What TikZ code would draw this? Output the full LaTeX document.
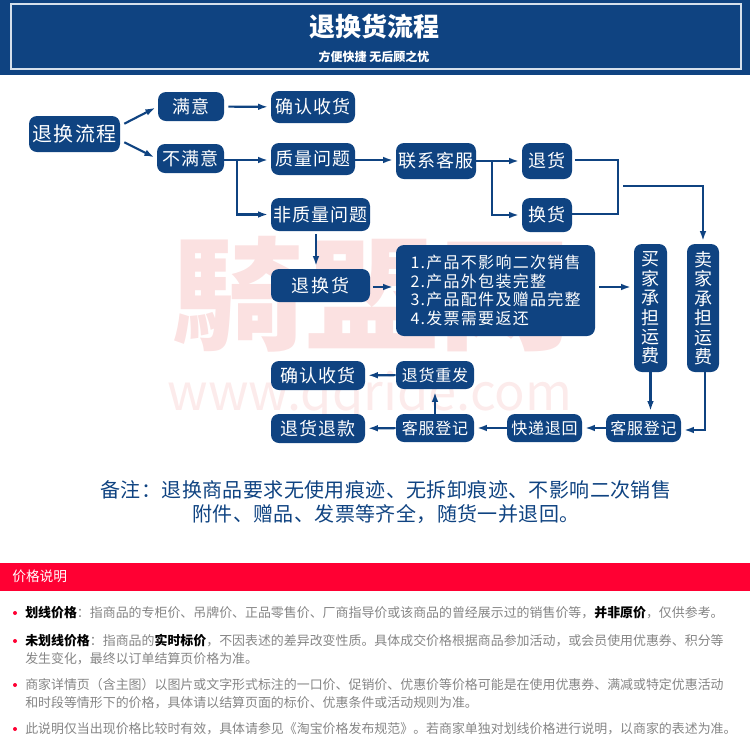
\documentclass[tikz,border=0pt]{standalone}
\usepackage{fontspec}
\setmainfont{Noto Sans CJK SC}
\usetikzlibrary{arrows.meta}
\definecolor{flowblue}{HTML}{0F4381}
\definecolor{framelight}{HTML}{D5E0EC}
\definecolor{notered}{HTML}{FF0033}
\definecolor{notegray}{HTML}{858585}
\definecolor{markpink}{HTML}{FBE1E1}
\definecolor{urlpink}{HTML}{FCEBEB}
\tikzset{
  flowbox/.style={draw=none, fill=flowblue, rounded corners=6pt, text=white, inner sep=0pt, font=\fontsize{13.5}{16}\selectfont\addfontfeature{LetterSpace=6}},
  smallbox/.style={flowbox, font=\fontsize{12}{14}\selectfont\addfontfeature{LetterSpace=5}},
  tallbox/.style={flowbox, align=center, font=\fontsize{13.5}{14.6}\selectfont},
  flowline/.style={draw=flowblue, line width=1.6pt},
  flowarrow/.style={flowline, -{Latex[length=7.5pt,width=5pt]}},
  notetext/.style={anchor=west, align=left, text=notegray, inner sep=0pt, font=\fontsize{9.7}{13.5}\selectfont},
  notedot/.style={circle, fill=notered, inner sep=0pt, minimum size=3pt},
}
\newcommand{\boldblack}[1]{{\bfseries\color{black}#1}}
\newcommand{\qcolon}{\char"FF1A\relax}
\newcommand{\qcomma}{\char"FF0C\relax}
\newcommand{\qopen}{\char"FF08\relax}
\newcommand{\qclose}{\char"FF09\relax}
\begin{document}
\begin{tikzpicture}[x=0.75pt, y=-0.75pt]
\useasboundingbox (0,0) rectangle (750,751);

% header
\fill[flowblue] (0,0) rectangle (750,75);
\draw[framelight, line width=1.4pt] (11,4) rectangle (741,69);
\node[text=white, font=\fontsize{19.5}{22}\bfseries\selectfont] (title) at (374,27) {退换货流程};
\node[text=white, font=\fontsize{9}{11}\bfseries\selectfont] (subtitle) at (374,57) {方便快捷 无后顾之忧};

% watermark
\node[text=markpink, yscale=0.92, font=\fontsize{100}{110}\bfseries\selectfont] (markname) at (372,294) {騎盟网};
\node[text=urlpink, font=\fontsize{38}{44}\selectfont] (markurl) at (370,396) {www.qqride.com};

% boxes
\node[flowbox, minimum width=91pt*0.75, minimum height=36pt*0.75, font=\fontsize{15}{18}\selectfont\addfontfeature{LetterSpace=6}] (start) at (74.5,134) {退换流程};
\node[flowbox, minimum width=66pt*0.75, minimum height=29pt*0.75] (ok) at (191,106.5) {满意};
\node[flowbox, minimum width=84pt*0.75, minimum height=32pt*0.75] (confirma) at (313,107) {确认收货};
\node[flowbox, minimum width=67pt*0.75, minimum height=29pt*0.75] (notok) at (190.5,158.5) {不满意};
\node[flowbox, minimum width=84pt*0.75, minimum height=32pt*0.75] (quality) at (313,159) {质量问题};
\node[flowbox, minimum width=80pt*0.75, minimum height=36pt*0.75] (service) at (436,161) {联系客服};
\node[flowbox, minimum width=50pt*0.75, minimum height=36pt*0.75] (back) at (547,161) {退货};
\node[flowbox, minimum width=50pt*0.75, minimum height=34pt*0.75] (swap) at (547,215) {换货};
\node[flowbox, minimum width=99pt*0.75, minimum height=33pt*0.75] (nonquality) at (320.5,214.5) {非质量问题};
\node[flowbox, minimum width=99pt*0.75, minimum height=33pt*0.75, font=\fontsize{13.5}{16}\selectfont\addfontfeature{LetterSpace=12}] (returns) at (320.5,285.5) {退换货};
\node[flowbox, align=left, minimum width=199pt*0.75, minimum height=91pt*0.75, text width=170pt*0.75, font=\fontsize{12}{14.1}\selectfont\addfontfeature{LetterSpace=8}] (rules) at (495.5,290.5) {1.产品不影响二次销售\\2.产品外包装完整\\3.产品配件及赠品完整\\4.发票需要返还};
\node[tallbox, minimum width=33pt*0.75, minimum height=128pt*0.75] (buyer) at (650.5,308) {买\\家\\承\\担\\运\\费};
\node[tallbox, minimum width=32pt*0.75, minimum height=128pt*0.75] (seller) at (703,308) {卖\\家\\承\\担\\运\\费};
\node[flowbox, minimum width=94pt*0.75, minimum height=29pt*0.75] (confirmb) at (318,375.5) {确认收货};
\node[smallbox, minimum width=78pt*0.75, minimum height=28pt*0.75] (resend) at (435,375) {退货重发};
\node[flowbox, minimum width=94pt*0.75, minimum height=29pt*0.75] (refund) at (318,428.5) {退货退款};
\node[smallbox, minimum width=78pt*0.75, minimum height=28pt*0.75] (servicea) at (435,428) {客服登记};
\node[smallbox, minimum width=75pt*0.75, minimum height=28pt*0.75] (courier) at (544.5,428) {快递退回};
\node[smallbox, minimum width=75pt*0.75, minimum height=28pt*0.75] (serviceb) at (643.5,428) {客服登记};

% connector points
\coordinate (splita) at (237,160);
\coordinate (splitb) at (492,161);
\coordinate (joina) at (618,160);
\coordinate (joinb) at (618,214);
\coordinate (freeend) at (623,186);
\coordinate (freeturn) at (703,186);
\coordinate (sellerturn) at (705,430);
\coordinate (droprow) at (316,0);
\coordinate (rulesrow) at (0,287);

% connectors
\draw[flowarrow, shorten >=2pt] (start.north east) ++(4,8) -- (ok.west);
\draw[flowarrow, shorten >=2pt] (start.south east) ++(4,-10) -- (notok.west);
\draw[flowarrow, shorten >=2pt, shorten <=3pt] (ok) -- (confirma);
\draw[flowarrow, shorten >=2pt] (notok.east |- splita) -- (quality.west |- splita);
\draw[flowarrow, shorten >=2pt] (splita) |- (nonquality);
\draw[flowarrow, shorten >=2pt] (quality.east |- splita) -- (service.west |- splita);
\draw[flowarrow, shorten >=2pt] (service) -- (back);
\draw[flowarrow, shorten >=2pt] (splitb) |- (swap);
\draw[flowline, shorten <=2pt] (back.east |- joina) -- (joina) -- (joinb) -- (swap.east |- joinb);
\draw[flowarrow, shorten >=2pt] (freeend) -- (freeturn) -- (seller);
\draw[flowarrow, shorten >=2pt, shorten <=2pt] (nonquality.south -| droprow) -- (returns.north -| droprow);
\draw[flowarrow, shorten >=2pt, shorten <=2pt] (returns.east |- rulesrow) -- (rules.west |- rulesrow);
\draw[flowarrow, shorten >=2pt, shorten <=3pt] (rules.east |- rulesrow) -- (buyer.west |- rulesrow);
\draw[flowarrow, shorten >=2pt] (buyer) -- (buyer |- serviceb.north);
\draw[flowarrow, shorten >=2pt] (seller.south -| sellerturn) -- (sellerturn) -- (serviceb.east |- sellerturn);
\draw[flowarrow, shorten >=2pt] (serviceb) -- (courier);
\draw[flowarrow, shorten >=2pt] (courier) -- (servicea);
\draw[flowarrow, shorten >=2pt] (servicea) -- (refund);
\draw[flowarrow, shorten >=2pt] (servicea.north -| resend) -- (resend);
\draw[flowarrow, shorten >=2pt] (resend) -- (confirmb);

% remark
\node[text=flowblue, font=\fontsize{15}{18.2}\selectfont\addfontfeature{LetterSpace=2}, align=center] (remark) at (386,502) {备注\qcolon 退换商品要求无使用痕迹、无拆卸痕迹、不影响二次销售\\附件、赠品、发票等齐全\qcomma 随货一并退回。};

% price notes
\fill[notered] (0,563) rectangle (750,591);
\node[anchor=west, text=white, inner sep=0pt, font=\fontsize{10.3}{12}\selectfont] (pricehead) at (12,576) {价格说明};
\node[notedot] (dota) at (15,613) {};
\node[notetext] (notea) at (25,613) {\boldblack{划线价格}\qcolon 指商品的专柜价、吊牌价、正品零售价、厂商指导价或该商品的曾经展示过的销售价等\qcomma\boldblack{并非原价}\qcomma 仅供参考。};
\node[notedot] (dotb) at (15,641) {};
\node[notetext] (noteb) at (25,650) {\boldblack{未划线价格}\qcolon 指商品的\boldblack{实时标价}\qcomma 不因表述的差异改变性质。具体成交价格根据商品参加活动\qcomma 或会员使用优惠券、积分等\\发生变化\qcomma 最终以订单结算页价格为准。};
\node[notedot] (dotc) at (15,685) {};
\node[notetext] (notec) at (25,694) {商家详情页\qopen 含主图\qclose 以图片或文字形式标注的一口价、促销价、优惠价等价格可能是在使用优惠券、满减或特定优惠活动\\和时段等情形下的价格\qcomma 具体请以结算页面的标价、优惠条件或活动规则为准。};
\node[notedot] (dotd) at (15,729) {};
\node[notetext] (noted) at (25,729) {此说明仅当出现价格比较时有效\qcomma 具体请参见《淘宝价格发布规范》。若商家单独对划线价格进行说明\qcomma 以商家的表述为准。};
\end{tikzpicture}
\end{document}
